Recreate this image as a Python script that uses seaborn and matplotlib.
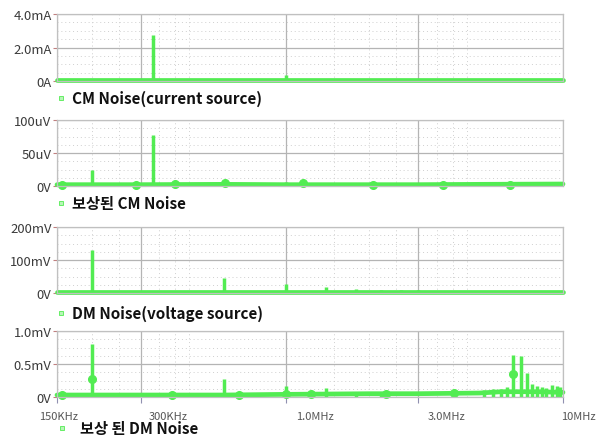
import numpy as np
import pandas as pd
import matplotlib
matplotlib.use("Agg")
import matplotlib.pyplot as plt
import matplotlib.transforms as mtransforms
from matplotlib.ticker import LogLocator, FixedLocator, NullFormatter
import seaborn as sns

# ---------------- data ----------------
x_tick_f = [150e3, 300e3, 1e6, 3e6, 10e6]
x_tick_labels = ["150KHz", "300KHz", "1.0MHz", "3.0MHz", "10MHz"]

titles = ["CM Noise(current source)", "보상된 CM Noise", "DM Noise(voltage source)", "보상 된 DM Noise"]

# Panel 1: CM noise, current source (mA)
cm_y_ticks = [0, 2, 4]
cm_y_labels = ["0A", "2.0mA", "4.0mA"]
cm_base_f = [150e3, 300e3, 1e6, 3e6, 10e6]
cm_base_v = [0.05, 0.05, 0.05, 0.05, 0.05]
cm_peak_f = [333e3, 1.0e6, 1.67e6, 2.33e6]
cm_peak_v = [2.75, 0.35, 0.12, 0.06]
cm_mark_f = []
cm_mark_v = []

# Panel 2: compensated CM noise (uV)
cmc_y_ticks = [0, 50, 100]
cmc_y_labels = ["0V", "50uV", "100uV"]
cmc_base_f = [150e3, 300e3, 600e3, 1e6, 2e6, 3e6, 5e6, 10e6]
cmc_base_v = [2.0, 2.0, 2.5, 2.0, 2.0, 2.0, 2.5, 3.0]
cmc_peak_f = [200e3, 333e3, 600e3, 1.0e6, 1.16e6, 1.4e6,
              3.5e6, 4.2e6, 5.0e6, 5.8e6, 6.6e6, 7.4e6, 8.2e6, 9.0e6, 9.8e6]
cmc_peak_v = [25, 77, 8, 6, 5, 3,
              4, 4, 4, 4, 5, 5, 5, 5, 5]
cmc_mark_f = [156e3, 288e3, 401e3, 604e3, 1.16e6, 2.06e6, 3.69e6, 6.42e6]
cmc_mark_v = [2, 2, 3, 5, 4, 2, 2, 2]

# Panel 3: DM noise, voltage source (mV)
dm_y_ticks = [0, 100, 200]
dm_y_labels = ["0V", "100mV", "200mV"]
dm_base_f = [150e3, 300e3, 1e6, 3e6, 10e6]
dm_base_v = [2.0, 2.0, 2.0, 2.0, 2.0]
dm_peak_f = [200e3, 600e3, 1.0e6, 1.4e6, 1.8e6, 2.2e6, 2.6e6, 3.0e6, 3.4e6, 3.8e6,
             4.2e6, 4.6e6, 5.0e6, 5.4e6, 5.8e6, 6.2e6, 6.6e6, 7.0e6, 7.4e6, 7.8e6,
             8.2e6, 8.6e6, 9.0e6, 9.4e6, 9.8e6]
dm_peak_v = [130, 45, 28, 18, 13, 10, 9, 8, 7, 7,
             7, 7, 6, 6, 6, 6, 6, 6, 6, 6,
             6, 6, 6, 6, 6]
dm_mark_f = []
dm_mark_v = []

# Panel 4: compensated DM noise (mV)
dmc_y_ticks = [0, 0.5, 1.0]
dmc_y_labels = ["0V", "0.5mV", "1.0mV"]
dmc_base_f = [150e3, 300e3, 600e3, 1e6, 2e6, 3e6, 5e6, 6e6, 7e6, 8e6, 10e6]
dmc_base_v = [0.03, 0.03, 0.03, 0.04, 0.05, 0.05, 0.06, 0.08, 0.08, 0.08, 0.07]
dmc_peak_f = [200e3, 600e3, 1.0e6, 1.4e6, 1.8e6, 2.2e6,
              5.2e6, 5.6e6, 6.0e6, 6.3e6,
              6.6e6, 7.04e6, 7.4e6, 7.7e6, 8.04e6, 8.4e6, 8.7e6, 9.1e6, 9.5e6, 9.75e6]
dmc_peak_v = [0.8, 0.27, 0.16, 0.13, 0.07, 0.05,
              0.10, 0.12, 0.12, 0.15,
              0.64, 0.62, 0.36, 0.20, 0.17, 0.15, 0.13, 0.18, 0.17, 0.15]
dmc_mark_f = [157e3, 200e3, 389e3, 681e3, 1.0e6, 1.23e6, 2.3e6, 4.05e6, 6.6e6]
dmc_mark_v = [0.03, 0.27, 0.03, 0.03, 0.05, 0.05, 0.05, 0.06, 0.35]

panels = [
    (cm_y_ticks, cm_y_labels, cm_base_f, cm_base_v, cm_peak_f, cm_peak_v, cm_mark_f, cm_mark_v),
    (cmc_y_ticks, cmc_y_labels, cmc_base_f, cmc_base_v, cmc_peak_f, cmc_peak_v, cmc_mark_f, cmc_mark_v),
    (dm_y_ticks, dm_y_labels, dm_base_f, dm_base_v, dm_peak_f, dm_peak_v, dm_mark_f, dm_mark_v),
    (dmc_y_ticks, dmc_y_labels, dmc_base_f, dmc_base_v, dmc_peak_f, dmc_peak_v, dmc_mark_f, dmc_mark_v),
]

# ---------------- style ----------------
sns.set_theme(style="white")
plt.rcParams["font.family"] = ["Noto Sans CJK KR", "DejaVu Sans"]
plt.rcParams["axes.unicode_minus"] = False

GREEN = "#52EC52"
W, H = 606, 439
fig = plt.figure(figsize=(W / 100, H / 100), dpi=100)

# axes boxes in pixel coords (left, top, right, bottom)
ax_left, ax_right = 57, 563
tops = [15, 121, 228, 332]
bottoms = [82, 187, 294, 398]
label_y = [99, 204, 314, 429]
label_x = [72, 72, 72, 80]
marker_x = [61, 61, 61, 62]
xlabel_offsets = [2, 28, 29, 29, 15]

for i, (yt, yl, bf, bv, pf, pv, mf, mv) in enumerate(panels):
    ax = fig.add_axes([ax_left / W, 1 - bottoms[i] / H,
                       (ax_right - ax_left) / W, (bottoms[i] - tops[i]) / H])
    ax.set_xscale("log")
    ax.set_xlim(x_tick_f[0], x_tick_f[-1])
    ax.set_ylim(yt[0], yt[-1])

    # grids
    ax.xaxis.set_major_locator(FixedLocator(x_tick_f))
    ax.xaxis.set_minor_locator(LogLocator(base=10, subs=np.arange(2, 10) * 0.5, numticks=50))
    ax.xaxis.set_minor_formatter(NullFormatter())
    ax.set_yticks(yt)
    ax.set_yticks(np.linspace(yt[0], yt[-1], 9), minor=True)
    ax.grid(True, which="major", color="#b4b4b4", lw=0.9, ls="-")
    ax.grid(True, which="minor", color="#cfcfcf", lw=0.7, ls=(0, (1, 3)))
    ax.set_axisbelow(True)
    for s in ax.spines.values():
        s.set_color("#c0c0c0")
        s.set_linewidth(0.9)

    # traces
    sns.lineplot(x=bf, y=bv, ax=ax, color=GREEN, lw=3.4, clip_on=False)
    ax.vlines(pf, yt[0], pv, color=GREEN, lw=2.5, clip_on=False)
    if len(mf):
        ax.plot(mf, mv, "o", color=GREEN, ms=5.5, clip_on=False)

    ax.set_yticklabels(yl, fontsize=9.4, color="#3a3a3a")
    ax.tick_params(axis="y", which="major", length=3, width=0.8, color="#c08080", pad=1, left=True)
    ax.tick_params(axis="y", which="minor", length=0)
    ax.tick_params(axis="x", which="minor", length=0)
    ax.set_xlabel("")
    ax.set_ylabel("")
    if i == 3:
        ax.tick_params(axis="x", which="major", length=4, width=0.8, color="#9090b0",
                       pad=6, bottom=True)
        ax.set_xticklabels(x_tick_labels, fontsize=8, color="#555555")
        for lab, off in zip(ax.get_xticklabels(), xlabel_offsets):
            lab.set_transform(lab.get_transform() +
                              mtransforms.ScaledTranslation(off / 100, 0, fig.dpi_scale_trans))
    else:
        ax.tick_params(axis="x", which="major", length=0)
        ax.set_xticklabels([])

    # series label
    fig.text(label_x[i] / W, 1 - label_y[i] / H, titles[i], fontsize=11,
             fontweight="bold", color="#111111", va="center", ha="left")
    fig.add_artist(plt.Line2D([marker_x[i] / W], [1 - label_y[i] / H], marker="s",
                              ms=3.5, mfc="#b8f5b8", mec=GREEN, mew=0.6, ls="",
                              transform=fig.transFigure))

fig.savefig("out.png", dpi=100)
